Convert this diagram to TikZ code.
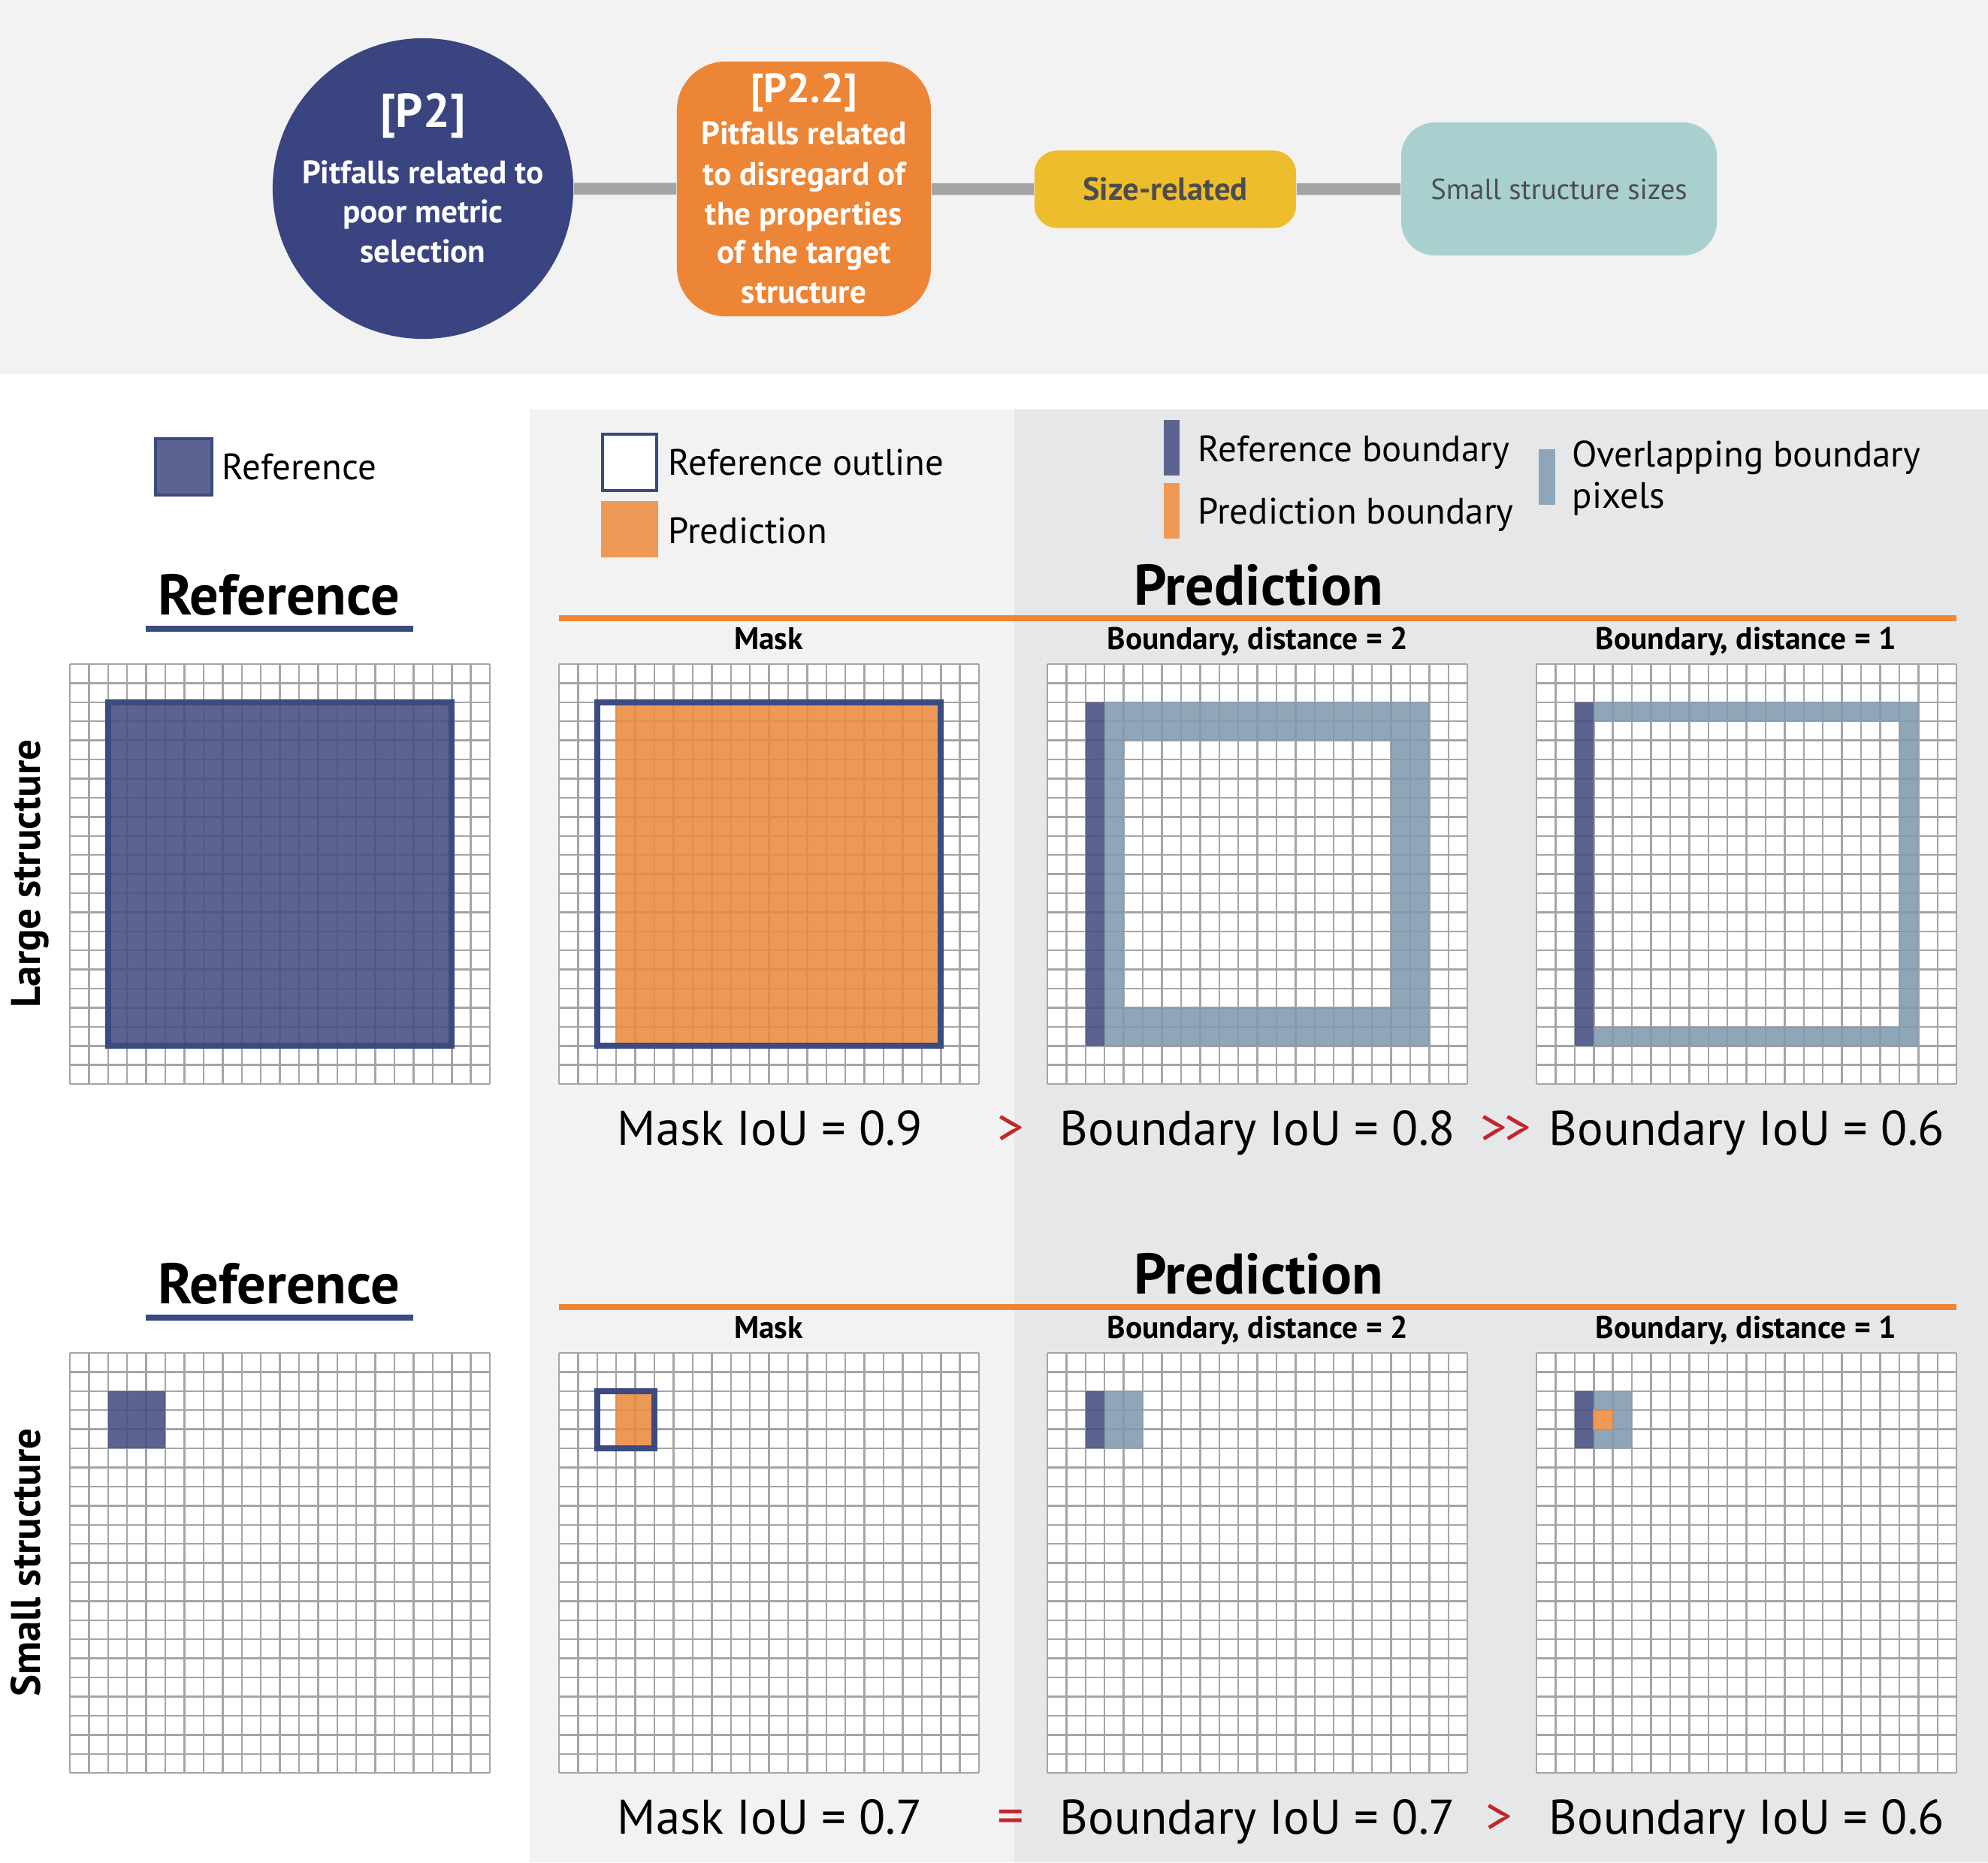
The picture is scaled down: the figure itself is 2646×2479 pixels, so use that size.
\documentclass[tikz,border=0pt]{standalone}
\usepackage{fontspec}
\setmainfont{PT Sans}
\usetikzlibrary{calc}
\definecolor{navy}{HTML}{3B4A7F}
\definecolor{circ}{HTML}{3A4480}
\definecolor{refc}{HTML}{5C6391}
\definecolor{refF}{HTML}{464E82}
\definecolor{predc}{HTML}{EE9955}
\definecolor{predF}{HTML}{EB8B3F}
\definecolor{ovc}{HTML}{8FA6B9}
\definecolor{ovF}{HTML}{809AB0}
\definecolor{orng}{HTML}{ED8536}
\definecolor{yel}{HTML}{EEBD2B}
\definecolor{tealc}{HTML}{A9CFCF}
\definecolor{gridc}{HTML}{A3A5A8}
\definecolor{bglt}{HTML}{F2F2F2}
\definecolor{bgdk}{HTML}{E6E7E9}
\definecolor{redc}{HTML}{C1272D}
\definecolor{darkt}{HTML}{4D4D4F}
\definecolor{orngdk}{HTML}{E0843F}
\tikzset{
  gridln/.style={draw=gridc, line width=0.7pt},
  reff/.style={fill=refF, fill opacity=0.88},
  predf/.style={fill=predF, fill opacity=0.88},
  ovf/.style={fill=ovF, fill opacity=0.88},
  outl/.style={draw=navy, line width=2.2pt},
  conn/.style={draw=gridc, line width=4.5pt},
  topw/.style={text=white, font=\bfseries\fontsize{12.3}{15}\selectfont, anchor=base, inner sep=0},
  iou/.style={font=\fontsize{18.4}{22}\selectfont, anchor=base, inner sep=0},
  cmp/.style={font=\fontsize{20}{24}\selectfont, anchor=base, inner sep=0, text=redc},
  head/.style={font=\bfseries\fontsize{21.7}{26}\selectfont, anchor=base, inner sep=0},
  sub/.style={font=\bfseries\fontsize{11.8}{14}\selectfont, anchor=base, inner sep=0},
  leg/.style={font=\fontsize{13.9}{17}\selectfont, anchor=base west, inner sep=0},
  vlab/.style={font=\bfseries\fontsize{15.6}{19}\selectfont, anchor=base, inner sep=0, rotate=90},
}
\newcommand\gridbase{%
  \fill[white] (0,0) rectangle (22,22);
  \foreach \k in {0,...,22} {\draw[gridln] (\k,0) -- (\k,22); \draw[gridln] (0,\k) -- (22,\k);}
}
\begin{document}
\begin{tikzpicture}[x=0.01cm,y=-0.01cm]
\useasboundingbox (0,0) rectangle (2646,2479);
% backgrounds
\fill[bglt] (0,0) rectangle (2646,498);
\fill[bglt] (705,545) rectangle (1350,2479);
\fill[bgdk] (1350,545) rectangle (2646,2479);
% top row
\node[circle, fill=circ, minimum size=4cm, inner sep=0] (p2) at (563,251) {};
\node[rectangle, rounded corners=0.65cm, fill=orng, minimum width=3.38cm, minimum height=3.39cm, inner sep=0] (p22) at (1070,251.5) {};
\node[rectangle, rounded corners=0.3cm, fill=yel, minimum width=3.48cm, minimum height=1.03cm, inner sep=0, text=darkt, font=\bfseries\fontsize{12.1}{14}\selectfont] (size) at (1551,252) {Size-related};
\node[rectangle, rounded corners=0.45cm, fill=tealc, minimum width=4.2cm, minimum height=1.77cm, inner sep=0, text=darkt, font=\fontsize{11}{13}\selectfont] (small) at (2075,251.5) {Small structure sizes};
\draw[conn] (p2) -- (p22);
\draw[conn] (p22) -- (size);
\draw[conn] (size) -- (small);
\node[topw, font=\bfseries\fontsize{18}{21}\selectfont] (p2a) at (563,170) {[P2]};
\node[topw] (p2b) at (563,245) {Pitfalls related to};
\node[topw] (p2c) at (563,297) {poor metric};
\node[topw] (p2d) at (563,350) {selection};
\node[topw, font=\bfseries\fontsize{15.5}{18}\selectfont] (p22a) at (1070,137) {[P2.2]};
\node[topw] (p22b) at (1070,193) {Pitfalls related};
\node[topw] (p22c) at (1070,247) {to disregard of};
\node[topw] (p22d) at (1070,300) {the properties};
\node[topw] (p22e) at (1070,351) {of the target};
\node[topw] (p22f) at (1070,403) {structure};
% legends
\filldraw[fill=refc, draw=navy, line width=1.1pt] (207,584) rectangle (282,659);
\node[leg] (lref) at (295,638) {Reference};
\filldraw[fill=white, draw=navy, line width=1.4pt] (802,578) rectangle (874,653);
\node[leg] (lrefo) at (889,632) {Reference outline};
\fill[predc] (800,667) rectangle (876,742);
\node[leg] (lpred) at (889,723) {Prediction};
\fill[refc] (1549,559) rectangle (1570,633);
\node[leg] (lrb) at (1594,614) {Reference boundary};
\fill[predc] (1549,643) rectangle (1570,717);
\node[leg] (lpb) at (1594,697) {Prediction boundary};
\fill[ovc] (2048,598) rectangle (2070,672);
\node[leg] (lob) at (2092,621) {Overlapping boundary};
\node[leg] (lob2) at (2092,676) {pixels};
% headings row 1
\node[head] (h1r) at (371,818) {Reference};
\fill[navy] (194,833) rectangle (550,841);
\node[head] (h1p) at (1675,805) {Prediction};
\fill[orng] (744,819) rectangle (2604,827);
\node[sub] (s1a) at (1023,864) {Mask};
\node[sub] (s1b) at (1674,864) {Boundary, distance = 2};
\node[sub] (s1c) at (2324,864) {Boundary, distance = 1};
% headings row 2
\node[head] (h2r) at (371,1735) {Reference};
\fill[navy] (194,1750) rectangle (550,1758);
\node[head] (h2p) at (1675,1722) {Prediction};
\fill[orng] (744,1736) rectangle (2604,1744);
\node[sub] (s2a) at (1023,1781) {Mask};
\node[sub] (s2b) at (1674,1781) {Boundary, distance = 2};
\node[sub] (s2c) at (2324,1781) {Boundary, distance = 1};
% vertical labels
\node[vlab] (vl1) at (54,1163) {Large structure};
\node[vlab] (vl2) at (54,2080) {Small structure};
% grids row 1
\begin{scope}[shift={(93,884)}, x=0.254cm, y=-0.254cm]
  \gridbase
  \fill[reff] (2,2) rectangle (20,20);
  \draw[outl] (2,2) rectangle (20,20);
\end{scope}
\begin{scope}[shift={(744,884)}, x=0.254cm, y=-0.254cm]
  \gridbase
  \fill[predf] (3,2) rectangle (20,20);
  \draw[outl] (2,2) rectangle (20,20);
\end{scope}
\begin{scope}[shift={(1394,884)}, x=0.254cm, y=-0.254cm]
  \gridbase
  \fill[reff] (2,2) rectangle (3,20);
  \fill[ovf, even odd rule] (3,2) rectangle (20,20) (4,4) rectangle (18,18);
\end{scope}
\begin{scope}[shift={(2045,884)}, x=0.254cm, y=-0.254cm]
  \gridbase
  \fill[reff] (2,2) rectangle (3,20);
  \fill[ovf, even odd rule] (3,2) rectangle (20,20) (3,3) rectangle (19,19);
\end{scope}
% grids row 2
\begin{scope}[shift={(93,1801)}, x=0.254cm, y=-0.254cm]
  \gridbase
  \fill[reff] (2,2) rectangle (5,5);
\end{scope}
\begin{scope}[shift={(744,1801)}, x=0.254cm, y=-0.254cm]
  \gridbase
  \fill[predf] (3,2) rectangle (5,5);
  \draw[outl] (2,2) rectangle (5,5);
\end{scope}
\begin{scope}[shift={(1394,1801)}, x=0.254cm, y=-0.254cm]
  \gridbase
  \fill[reff] (2,2) rectangle (3,5);
  \fill[ovf] (3,2) rectangle (5,5);
\end{scope}
\begin{scope}[shift={(2045,1801)}, x=0.254cm, y=-0.254cm]
  \gridbase
  \fill[reff] (2,2) rectangle (3,5);
  \fill[ovf] (3,2) rectangle (5,5);
  \filldraw[fill=predc, draw=orngdk, line width=0.5pt] (3,3) rectangle (4,4);
\end{scope}
% IoU row 1
\node[iou] (i1a) at (1025,1524) {Mask IoU = 0.9};
\node[cmp] (c1a) at (1345,1524) {>};
\node[iou] (i1b) at (1674,1524) {Boundary IoU = 0.8};
\node[cmp] (c1b) at (2004,1524) {>\kern-1pt>};
\node[iou] (i1c) at (2325,1524) {Boundary IoU = 0.6};
% IoU row 2
\node[iou] (i2a) at (1025,2441) {Mask IoU = 0.7};
\node[cmp] (c2a) at (1345,2441) {=};
\node[iou] (i2b) at (1674,2441) {Boundary IoU = 0.7};
\node[cmp] (c2b) at (1995,2441) {>};
\node[iou] (i2c) at (2325,2441) {Boundary IoU = 0.6};
\end{tikzpicture}
\end{document}
